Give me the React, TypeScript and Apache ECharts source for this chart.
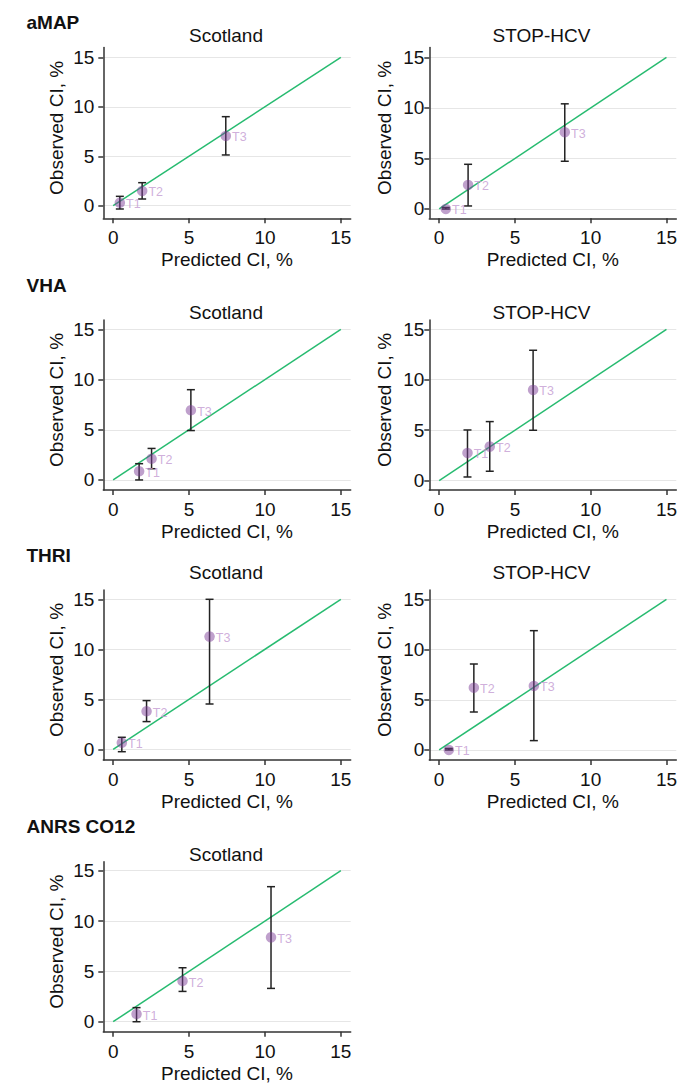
import React, { useEffect, useRef } from "react";
import * as echarts from "echarts";

// ---------- data ----------
const timepoints = ["T1", "T2", "T3"];
const tickValues = [0, 5, 10, 15];
const identityLine = [0, 15];

const aMAPScotlandPred = [0.44, 1.91, 7.42];
const aMAPScotlandObs = [0.3, 1.49, 7.05];
const aMAPScotlandLo = [-0.33, 0.68, 5.13];
const aMAPScotlandHi = [0.95, 2.33, 9.0];

const aMAPStopPred = [0.44, 1.91, 8.29];
const aMAPStopObs = [0.0, 2.38, 7.59];
const aMAPStopLo = [0.0, 0.3, 4.72];
const aMAPStopHi = [0.15, 4.42, 10.4];

const vhaScotlandPred = [1.71, 2.53, 5.12];
const vhaScotlandObs = [0.86, 2.11, 6.94];
const vhaScotlandLo = [0.0, 1.12, 4.92];
const vhaScotlandHi = [1.62, 3.14, 8.99];

const vhaStopPred = [1.87, 3.34, 6.2];
const vhaStopObs = [2.74, 3.37, 8.99];
const vhaStopLo = [0.36, 0.93, 4.99];
const vhaStopHi = [5.02, 5.85, 12.92];

const thriScotlandPred = [0.57, 2.2, 6.35];
const thriScotlandObs = [0.65, 3.8, 11.27];
const thriScotlandLo = [-0.24, 2.77, 4.53];
const thriScotlandHi = [1.2, 4.87, 15.0];

const thriStopPred = [0.64, 2.29, 6.25];
const thriStopObs = [0.0, 6.2, 6.37];
const thriStopLo = [0.0, 3.78, 0.93];
const thriStopHi = [0.15, 8.56, 11.88];

const anrsScotlandPred = [1.54, 4.57, 10.4];
const anrsScotlandObs = [0.76, 4.04, 8.38];
const anrsScotlandLo = [0.0, 3.01, 3.31];
const anrsScotlandHi = [1.4, 5.36, 13.41];

const sectionTitles = ["aMAP", "VHA", "THRI", "ANRS CO12"];
const cohortTitles = ["Scotland", "STOP-HCV"];

// ---------- layout ----------
const FONT = "'Liberation Sans', Arial, sans-serif";
const LEFT_COL = { left: 103.3, width: 247.4, titleX: 226, labelMargin: 9, nameGap: 37 };
const RIGHT_COL = { left: 429.3, width: 247, titleX: 541.5, labelMargin: 5, nameGap: 35 };
const ROWS = [
  { top: 47.5, height: 170.8, titleY: 35, sectionY: 22.5 },
  { top: 320, height: 170, titleY: 312.7, sectionY: 285 },
  { top: 590, height: 170, titleY: 572.7, sectionY: 555 },
  { top: 861.7, height: 170, titleY: 854, sectionY: 826 },
];

const panels = [
  { row: 0, col: 0, pred: aMAPScotlandPred, obs: aMAPScotlandObs, lo: aMAPScotlandLo, hi: aMAPScotlandHi, yMin: -1.27, yMax: 15.99 },
  { row: 0, col: 1, pred: aMAPStopPred, obs: aMAPStopObs, lo: aMAPStopLo, hi: aMAPStopHi, yMin: -0.92, yMax: 15.97 },
  { row: 1, col: 0, pred: vhaScotlandPred, obs: vhaScotlandObs, lo: vhaScotlandLo, hi: vhaScotlandHi, yMin: -1.0, yMax: 15.93 },
  { row: 1, col: 1, pred: vhaStopPred, obs: vhaStopObs, lo: vhaStopLo, hi: vhaStopHi, yMin: -0.93, yMax: 15.92 },
  { row: 2, col: 0, pred: thriScotlandPred, obs: thriScotlandObs, lo: thriScotlandLo, hi: thriScotlandHi, yMin: -1.07, yMax: 15.93 },
  { row: 2, col: 1, pred: thriStopPred, obs: thriStopObs, lo: thriStopLo, hi: thriStopHi, yMin: -1.0, yMax: 15.93 },
  { row: 3, col: 0, pred: anrsScotlandPred, obs: anrsScotlandObs, lo: anrsScotlandLo, hi: anrsScotlandHi, yMin: -0.99, yMax: 15.89 },
];

const AXIS_COLOR = "#333333";
const GRID_COLOR = "#e6e6e6";
const LINE_GREEN = "#27bb70";
const MARKER = "rgba(125, 62, 152, 0.62)";
const LABEL_PURPLE = "#c39ad2";
const TEXT = "#111111";

function buildOption() {
  const grid: any[] = [];
  const xAxis: any[] = [];
  const yAxis: any[] = [];
  const series: any[] = [];
  const graphic: any[] = [];

  panels.forEach((p, i) => {
    const col = p.col === 0 ? LEFT_COL : RIGHT_COL;
    const row = ROWS[p.row];
    grid.push({ left: col.left, top: row.top, width: col.width, height: row.height, containLabel: false });
    xAxis.push({
      type: "value",
      gridIndex: i,
      min: -0.65,
      max: 15.65,
      axisLine: { show: true, onZero: false, lineStyle: { color: AXIS_COLOR, width: 1.5 } },
      axisTick: { show: true, customValues: tickValues, length: 5, lineStyle: { color: AXIS_COLOR, width: 1.5 } },
      axisLabel: { customValues: tickValues, margin: 10, fontSize: 19, color: TEXT, fontFamily: FONT },
      splitLine: { show: false },
      name: "Predicted CI, %",
      nameLocation: "middle",
      nameGap: 32,
      nameTextStyle: { fontSize: 19, color: TEXT, fontFamily: FONT },
    });
    yAxis.push({
      type: "value",
      gridIndex: i,
      min: p.yMin,
      max: p.yMax,
      axisLine: { show: true, onZero: false, lineStyle: { color: AXIS_COLOR, width: 1.5 } },
      axisTick: { show: true, customValues: tickValues, length: 5, lineStyle: { color: AXIS_COLOR, width: 1.5 } },
      axisLabel: { customValues: tickValues, margin: col.labelMargin, fontSize: 19, color: TEXT, fontFamily: FONT },
      splitLine: { show: true, lineStyle: { color: GRID_COLOR, width: 1 } },
      name: "Observed CI, %",
      nameLocation: "middle",
      nameGap: col.nameGap,
      nameTextStyle: { fontSize: 19, color: TEXT, fontFamily: FONT, padding: [0, 0, 0, 10] },
    });

    series.push({
      type: "line",
      xAxisIndex: i,
      yAxisIndex: i,
      data: [
        [identityLine[0], identityLine[0]],
        [identityLine[1], identityLine[1]],
      ],
      showSymbol: false,
      symbol: "none",
      lineStyle: { color: LINE_GREEN, width: 1.5 },
      silent: true,
      z: 2,
    });

    series.push({
      type: "custom",
      xAxisIndex: i,
      yAxisIndex: i,
      data: p.pred.map((x, j) => [x, p.lo[j], p.hi[j]]),
      encode: { x: 0, y: [1, 2] },
      renderItem: (params: any, api: any) => {
        const x = api.value(0);
        const pLo = api.coord([x, api.value(1)]);
        const pHi = api.coord([x, api.value(2)]);
        const hw = 4;
        const style = { stroke: "#222222", lineWidth: 1.5, fill: null };
        return {
          type: "group",
          children: [
            { type: "line", shape: { x1: pLo[0], y1: pLo[1], x2: pHi[0], y2: pHi[1] }, style },
            { type: "line", shape: { x1: pLo[0] - hw, y1: pLo[1], x2: pLo[0] + hw, y2: pLo[1] }, style },
            { type: "line", shape: { x1: pHi[0] - hw, y1: pHi[1], x2: pHi[0] + hw, y2: pHi[1] }, style },
          ],
        };
      },
      z: 3,
    });

    series.push({
      type: "scatter",
      xAxisIndex: i,
      yAxisIndex: i,
      data: p.pred.map((x, j) => [x, p.obs[j], timepoints[j]]),
      symbol: "circle",
      symbolSize: 10.5,
      itemStyle: { color: MARKER },
      label: {
        show: true,
        position: "right",
        distance: 1,
        offset: [0, 1.5],
        formatter: (d: any) => d.value[2],
        color: LABEL_PURPLE,
        fontSize: 12.5,
        fontFamily: FONT,
      },
      z: 4,
    });

    graphic.push({
      type: "text",
      x: col.titleX,
      y: row.titleY,
      style: {
        text: cohortTitles[p.col],
        fontSize: 19,
        fontFamily: FONT,
        fill: TEXT,
        align: "center",
        verticalAlign: "middle",
      },
    });
  });

  sectionTitles.forEach((t, r) => {
    graphic.push({
      type: "text",
      x: 26.5,
      y: ROWS[r].sectionY,
      style: {
        text: t,
        fontSize: 19,
        fontWeight: "bold",
        fontFamily: FONT,
        fill: TEXT,
        align: "left",
        verticalAlign: "middle",
      },
    });
  });

  return {
    animation: false,
    backgroundColor: "#ffffff",
    grid,
    xAxis,
    yAxis,
    series,
    graphic,
  };
}

export default function App() {
  const ref = useRef<HTMLDivElement>(null);
  useEffect(() => {
    if (!ref.current) return;
    const chart = echarts.init(ref.current, null, { renderer: "svg" });
    chart.setOption(buildOption() as any);
    return () => chart.dispose();
  }, []);
  return (
    <div
      ref={ref}
      style={{ position: "absolute", left: 0, top: 0, width: 692, height: 1089, background: "#fff" }}
    />
  );
}
